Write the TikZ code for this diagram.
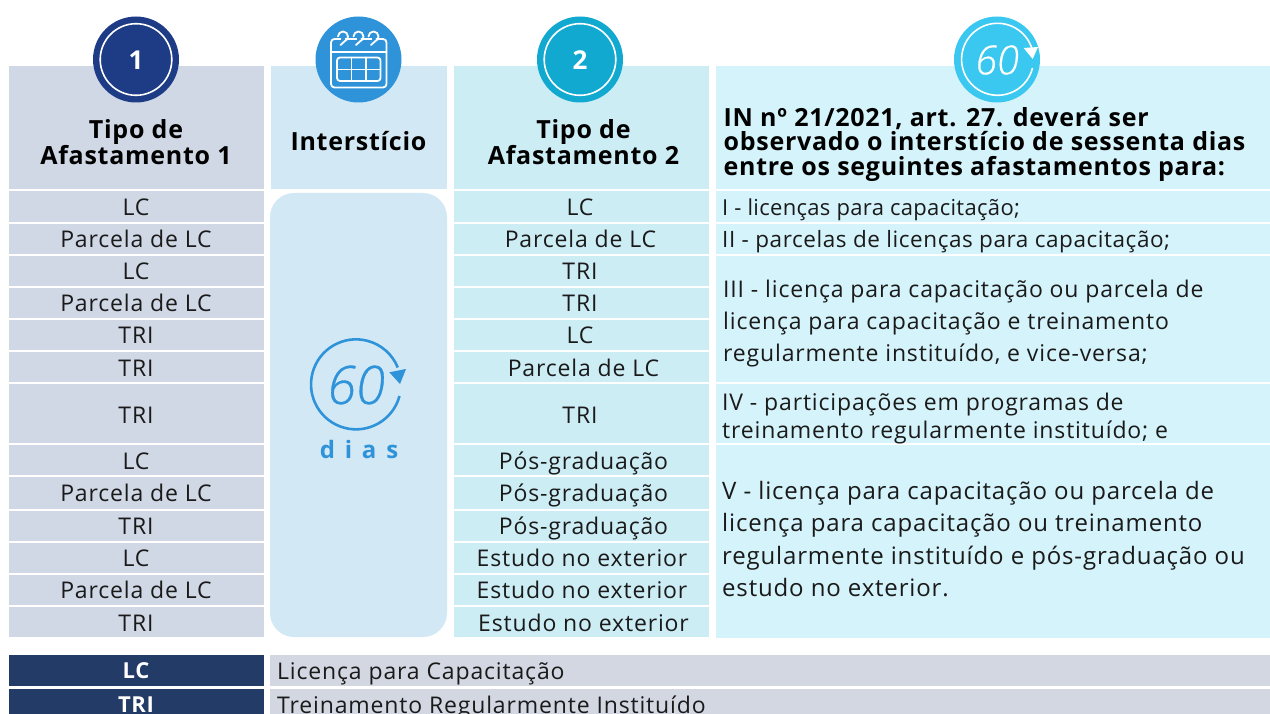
\documentclass[tikz,border=0pt]{standalone}
\usepackage{fontspec}
\setmainfont{Open Sans}
\newfontfamily\bodyf[LetterSpace=3.7]{Open Sans}
\newfontfamily\headf[LetterSpace=2.9]{Open Sans Bold}
\newfontfamily\sixtyf[FakeBold=0.6]{Open Sans Light Italic}
\definecolor{colA}{HTML}{D0D8E5}
\definecolor{colB}{HTML}{D3E8F5}
\definecolor{colC}{HTML}{CDEDF5}
\definecolor{colD}{HTML}{D5F3FA}
\definecolor{navy}{HTML}{1E3C85}
\definecolor{midblue}{HTML}{2E93D9}
\definecolor{teal}{HTML}{12A9D0}
\definecolor{sky}{HTML}{3AC8F0}
\definecolor{barnavy}{HTML}{223B67}
\definecolor{bargrey}{HTML}{D3D7E2}
\definecolor{ink}{HTML}{1A1A1A}
\tikzset{
  bodytxt/.style={text=ink,inner sep=0pt,font=\bodyf\fontsize{23}{32}\selectfont,text height=19pt,text depth=2pt},
  headtxt/.style={text=black,inner sep=0pt,align=center,font=\headf\fontsize{25}{24.5}\selectfont},
  paratxt/.style={text=ink,inner sep=0pt,align=left,anchor=north west,font=\bodyf\fontsize{23}{32}\selectfont},
  ring/.style={draw=white,line width=1.6pt}
}
\begin{document}
\begin{tikzpicture}[x=1pt,y=-1pt]
\useasboundingbox (0,0) rectangle (1270,714);
% header cells
\fill[colA] (9,66) rectangle (264,189);
\fill[colB] (271,66) rectangle (447,189);
\fill[colC] (454,66) rectangle (709,189);
\fill[colD] (716,66) rectangle (1270,189);
% body rows
\foreach \a/\b in {191/222,224/254,256/286,288/318,320/350,352/382,384/443,445/475,477/509,511/541,543/573,575/605,607/637}{
  \fill[colA] (9,\a) rectangle (264,\b);
  \fill[colC] (454,\a) rectangle (709,\b);
}
\foreach \a/\b in {191/222,224/254,256/382,384/443,445/638}{
  \fill[colD] (716,\a) rectangle (1270,\b);
}
\fill[colB,rounded corners=24pt] (270,193) rectangle (447,637);
% legend bars
\fill[barnavy] (9,655) rectangle (264,686);
\fill[barnavy] (9,689) rectangle (264,714);
\fill[bargrey] (270,655) rectangle (1270,686);
\fill[bargrey] (270,689) rectangle (1270,714);
% circles
\fill[navy] (136,59.5) circle (43);
\draw[ring] (136,59.5) circle (35.8);
\node[text=white,inner sep=0pt,font=\headf\fontsize{26}{26}\selectfont] (n1) at (136,60) {1};
\fill[midblue] (358.5,59.5) circle (43);
\fill[teal] (580,59.5) circle (43);
\draw[ring] (580,59.5) circle (35.8);
\node[text=white,inner sep=0pt,font=\headf\fontsize{26}{26}\selectfont] (n2) at (580,60) {2};
\fill[sky] (997,59.5) circle (43);
% calendar
\begin{scope}[draw=white,line width=1.8pt,line cap=round,line join=round]
\draw[rounded corners=3.5pt] (331,39) rectangle (386.5,87.5);
\draw (331,52) -- (386.5,52);
\draw[rounded corners=3pt] (337,57.5) rectangle (380.5,81);
\draw (337,69.5) -- (380.5,69.5);
\draw (351.5,57.5) -- (351.5,81);
\draw (366,57.5) -- (366,81);
\foreach \c in {343,358.5,373.5}{
  \draw[midblue,line width=4pt] (\c,39) -- (\c,42);
  \draw (\c-5,36.5) arc[start angle=180,end angle=430,radius=5] -- (\c-2.5,45);
}
\end{scope}
% sixty badge
\draw[white,line width=1.6pt] (1032.5,68) arc[start angle=14,end angle=345,radius=36];
\fill[white] (1023.6,48) -- (1038,47) -- (1032.7,59) -- cycle;
\node[text=white,inner sep=0pt,font=\sixtyf\fontsize{40}{40}\selectfont] (s60) at (997,60) {60};
% interval icon
\draw[midblue,line width=2.6pt] (399.5,396) arc[start angle=15,end angle=338,radius=45];
\fill[midblue] (389.3,372.3) -- (406,369) -- (400,384) -- cycle;
\node[text=midblue,inner sep=0pt,font=\sixtyf\fontsize{53}{53}\selectfont] (d60) at (356,385) {60};
\node[text=midblue,inner sep=0pt,font=\headf\fontsize{24}{24}\selectfont\addfontfeature{LetterSpace=41}] (dias) at (359,449) {dias};
% headers
\node[headtxt] (h1) at (136,142) {Tipo de\\Afastamento 1};
\node[headtxt] (h2) at (358.5,141) {Interstício};
\node[headtxt] (h3) at (583.5,142) {Tipo de\\Afastamento 2};
\node[headtxt,align=left,anchor=west] (h4) at (723.5,144) {IN nº 21/2021, art. 27. deverá ser\\observado o interstício de sessenta dias\\entre os seguintes afastamentos para:};
% column 1
\node[bodytxt] (a1) at (136,207) {LC};
\node[bodytxt] (a2) at (136,239) {Parcela de LC};
\node[bodytxt] (a3) at (136,271) {LC};
\node[bodytxt] (a4) at (136,303.5) {Parcela de LC};
\node[bodytxt] (a5) at (136,335.5) {TRI};
\node[bodytxt] (a6) at (136,368) {TRI};
\node[bodytxt] (a7) at (136,415) {TRI};
\node[bodytxt] (a8) at (136,461) {LC};
\node[bodytxt] (a9) at (136,493) {Parcela de LC};
\node[bodytxt] (a10) at (136,526) {TRI};
\node[bodytxt] (a11) at (136,558) {LC};
\node[bodytxt] (a12) at (136,590) {Parcela de LC};
\node[bodytxt] (a13) at (136,623) {TRI};
% column 3
\node[bodytxt] (c1) at (580,207) {LC};
\node[bodytxt] (c2) at (580.5,239) {Parcela de LC};
\node[bodytxt] (c3) at (580,271) {TRI};
\node[bodytxt] (c4) at (580,303.5) {TRI};
\node[bodytxt] (c5) at (580,335.5) {LC};
\node[bodytxt] (c6) at (583.5,368) {Parcela de LC};
\node[bodytxt] (c7) at (580,415) {TRI};
\node[bodytxt] (c8) at (583.5,461) {Pós-graduação};
\node[bodytxt] (c9) at (583.5,493) {Pós-graduação};
\node[bodytxt] (c10) at (583.5,526) {Pós-graduação};
\node[bodytxt] (c11) at (582,558) {Estudo no exterior};
\node[bodytxt] (c12) at (582,590) {Estudo no exterior};
\node[bodytxt] (c13) at (583.5,623) {Estudo no exterior};
% column 4
\node[bodytxt,anchor=west,font=\bodyf\fontsize{22}{32}\selectfont\addfontfeature{LetterSpace=1.5}] (d1) at (722,207) {I - licenças para capacitação;};
\node[bodytxt,anchor=west,font=\bodyf\fontsize{22.5}{32}\selectfont\addfontfeature{LetterSpace=2.5}] (d2) at (722,239) {II - parcelas de licenças para capacitação;};
\node[paratxt,font=\bodyf\fontsize{23}{31.7}\selectfont] (d3) at (723,280) {III - licença para capacitação ou parcela de\\licença para capacitação e treinamento\\regularmente instituído, e vice-versa;};
\node[paratxt,font=\bodyf\fontsize{23}{28}\selectfont] (d4) at (722,393) {IV - participações em programas de\\treinamento regularmente instituído; e};
\node[paratxt,font=\bodyf\fontsize{24}{32.3}\selectfont\addfontfeature{LetterSpace=3.5}] (d5) at (722,481) {V - licença para capacitação ou parcela de\\licença para capacitação ou treinamento\\regularmente instituído e pós-graduação ou\\estudo no exterior.};
% legend
\node[text=white,inner sep=0pt,font=\headf\fontsize{22}{22}\selectfont] (l1) at (136,671) {LC};
\node[text=white,inner sep=0pt,font=\headf\fontsize{22}{22}\selectfont] (l2) at (136,705) {TRI};
\node[bodytxt,anchor=west] (l3) at (277,671) {Licença para Capacitação};
\node[bodytxt,anchor=west] (l4) at (277,705) {Treinamento Regularmente Instituído};
\end{tikzpicture}
\end{document}
